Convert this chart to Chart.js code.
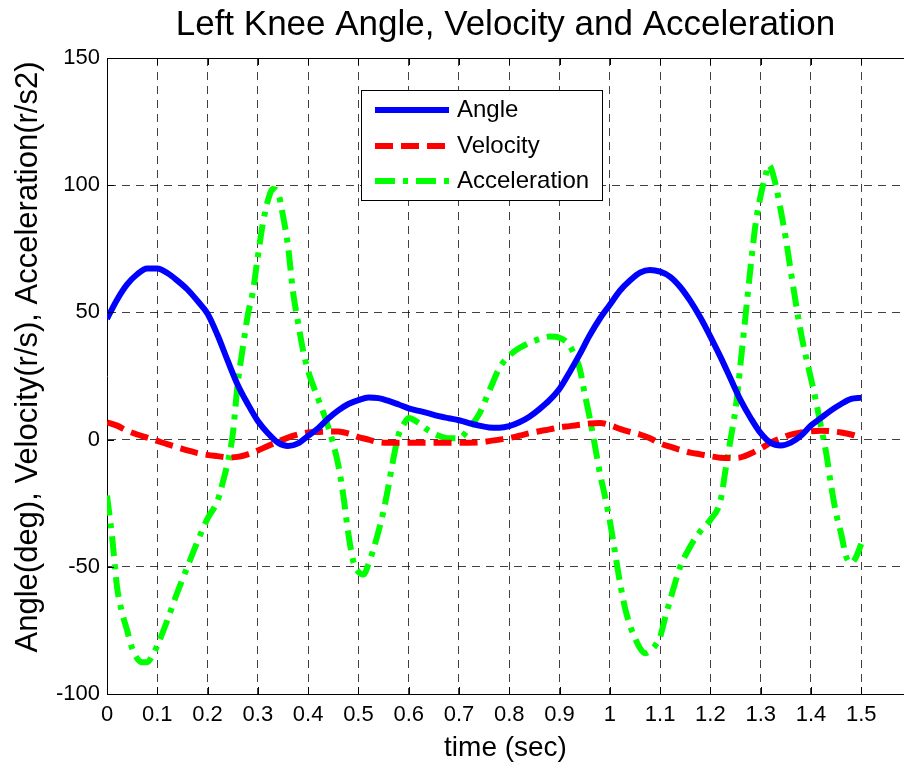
<!DOCTYPE html>
<html>
<head>
<meta charset="utf-8">
<style>
  body { margin: 0; background: #fff; }
  #wrap { width: 904px; height: 768px; }
</style>
</head>
<body>
<div id="wrap"><canvas id="chart"></canvas></div>

<script src="https://cdn.jsdelivr.net/npm/chart.js"></script>
<script>
// time (sec) samples for angle and velocity
const timeA = [0, 0.02, 0.04, 0.06, 0.08, 0.10, 0.12, 0.14, 0.16, 0.18,
  0.20, 0.22, 0.24, 0.26, 0.28, 0.30, 0.32, 0.34, 0.36, 0.38,
  0.40, 0.42, 0.44, 0.46, 0.48, 0.50, 0.52, 0.54, 0.56, 0.58,
  0.60, 0.62, 0.64, 0.66, 0.68, 0.70, 0.72, 0.74, 0.76, 0.78,
  0.80, 0.82, 0.84, 0.86, 0.88, 0.90, 0.92, 0.94, 0.96, 0.98,
  1.00, 1.02, 1.04, 1.06, 1.08, 1.10, 1.12, 1.14, 1.16, 1.18,
  1.20, 1.22, 1.24, 1.26, 1.28, 1.30, 1.32, 1.34, 1.36, 1.38,
  1.40, 1.42, 1.44, 1.46, 1.48, 1.50];

const angle = [47.5, 55, 61, 65, 67.3, 67.3, 65.5, 62.5, 59, 54.5,
  49.5, 41, 31, 21.5, 14, 7.3, 2.5, -1.2, -2.5, -1.5,
  1.5, 4.5, 8.3, 11.5, 14, 15.5, 16.5, 16.3, 15.2, 13.8,
  12.3, 11.3, 10.3, 9.2, 8.4, 7.6, 6.5, 5.5, 4.8, 4.7,
  5.3, 6.8, 9, 12, 15.5, 20, 26.5, 33.5, 41, 47.5,
  53, 58.5, 62.5, 65.6, 66.7, 66, 64, 60, 54.5, 48,
  40.5, 32.5, 24, 15.5, 8.5, 2.5, -1.3, -2.3, -1.2, 1.5,
  5.5, 8.5, 11.5, 14, 16, 16.5];

const velocity = [6.8, 5.5, 3.5, 2, 0.8, -0.5, -1.8, -3, -4.2, -5.3,
  -6, -6.5, -7, -6.8, -5.8, -4.3, -2.5, -0.8, 0.8, 2,
  2.8, 3, 3.2, 3.2, 2.4, 1, 0, -1, -1.2, -1.2,
  -1.2, -1.2, -1.2, -1.2, -1.2, -1.2, -1.2, -1.1, -0.6, 0,
  0.6, 1.5, 2.5, 3.3, 4, 4.8, 5.3, 5.8, 6.3, 6.5,
  5.7, 4.2, 3, 2, 0.5, -1.5, -2.8, -4, -5.1, -5.8,
  -6.5, -7.1, -7.2, -7, -5.5, -3.5, -1.2, 0.5, 2, 2.8,
  3.3, 3.5, 3.3, 2.8, 2, 0.8];

// acceleration has its own (denser) time samples
const timeAcc = [0, 0.01, 0.02, 0.03, 0.04, 0.05, 0.06, 0.07, 0.08, 0.09,
  0.10, 0.12, 0.14, 0.16, 0.18, 0.20, 0.22, 0.23, 0.24, 0.25,
  0.26, 0.27, 0.28, 0.29, 0.30, 0.31, 0.32, 0.33, 0.34, 0.35,
  0.36, 0.37, 0.38, 0.39, 0.40, 0.42, 0.44, 0.46, 0.47, 0.48,
  0.49, 0.50, 0.51, 0.52, 0.53, 0.54, 0.55, 0.56, 0.57, 0.58,
  0.59, 0.60, 0.62, 0.64, 0.66, 0.68, 0.70, 0.72, 0.74, 0.76,
  0.78, 0.80, 0.82, 0.84, 0.86, 0.88, 0.90, 0.92, 0.93, 0.94,
  0.95, 0.96, 0.97, 0.98, 0.99, 1.00, 1.01, 1.02, 1.03, 1.04,
  1.05, 1.06, 1.07, 1.08, 1.09, 1.10, 1.11, 1.12, 1.14, 1.16,
  1.18, 1.20, 1.22, 1.23, 1.24, 1.25, 1.26, 1.27, 1.28, 1.29,
  1.30, 1.31, 1.315, 1.32, 1.33, 1.34, 1.35, 1.36, 1.38, 1.40,
  1.41, 1.42, 1.43, 1.44, 1.45, 1.46, 1.47, 1.48, 1.49, 1.50];

const acceleration = [-22, -38, -58, -68, -75, -82, -86, -87.5, -87.5, -85,
  -81, -71, -60, -50, -40, -31, -24, -17, -9, 2,
  22, 36, 49, 58, 72, 85, 94, 98.5, 97, 88,
  76, 58, 46, 35, 27, 16, 5, -10, -22, -37,
  -48, -52, -53, -49, -43, -36, -28, -18, -7, 2,
  6, 8.5, 6.5, 3.5, 1.5, 0.5, 0.5, 4.5, 10, 19,
  28, 33, 36, 38, 39.5, 40.5, 40, 37, 33, 28,
  18, 8.5, -2, -13, -22, -32, -44, -56, -66, -73,
  -78, -82, -84, -83, -81, -77.5, -70, -63, -50, -42,
  -36, -31.5, -24, -12, 0, 12, 30, 49, 68, 85,
  96, 104, 108, 107, 100, 90, 79, 66, 42, 24,
  15, 5, -5, -18, -29, -37, -46, -48.5, -46, -41];

const xTicks = [0, 0.1, 0.2, 0.3, 0.4, 0.5, 0.6, 0.7, 0.8, 0.9, 1, 1.1, 1.2, 1.3, 1.4, 1.5];
const xTickLabels = ['0', '0.1', '0.2', '0.3', '0.4', '0.5', '0.6', '0.7', '0.8', '0.9', '1', '1.1', '1.2', '1.3', '1.4', '1.5'];
const yTicks = [-100, -50, 0, 50, 100, 150];
const yTickLabels = ['-100', '-50', '0', '50', '100', '150'];
const yTitle = 'Angle(deg), Velocity(r/s), Acceleration(r/s2)';

function pairs(t, v) {
    return t.map((x, i) => ({x: x, y: v[i]}));
}

Chart.defaults.font.family = "'Liberation Sans', Arial, sans-serif";
Chart.defaults.color = '#000';

// MATLAB style box: top border, inward ticks, y label, legend inside the axes
const matlabBox = {
    id: 'matlabBox',
    afterDraw(chart) {
        const ctx = chart.ctx;
        const a = chart.chartArea;
        const xs = chart.scales.x, ys = chart.scales.y;
        ctx.save();
        ctx.strokeStyle = '#000';
        ctx.lineWidth = 1;
        ctx.beginPath();
        ctx.moveTo(a.left, Math.round(a.top) + 0.5);
        ctx.lineTo(a.right, Math.round(a.top) + 0.5);
        xTicks.forEach(v => {
            const px = Math.round(xs.getPixelForValue(v)) + 0.5;
            ctx.moveTo(px, a.bottom); ctx.lineTo(px, a.bottom - 7);
            ctx.moveTo(px, a.top); ctx.lineTo(px, a.top + 7);
        });
        yTicks.forEach(v => {
            const py = Math.round(ys.getPixelForValue(v)) + 0.5;
            ctx.moveTo(a.left, py); ctx.lineTo(a.left + 7, py);
        });
        ctx.stroke();

        // y axis label (MATLAB puts it a bit above the axis middle here)
        ctx.save();
        ctx.translate(28, 357);
        ctx.rotate(-Math.PI / 2);
        ctx.font = "31px 'Liberation Sans', Arial, sans-serif";
        ctx.fillStyle = '#000';
        ctx.textAlign = 'center';
        ctx.textBaseline = 'middle';
        ctx.fillText(yTitle, 0, 0);
        ctx.restore();

        // legend
        const bx = 361, by = 90, bw = 241, bh = 110;
        ctx.fillStyle = '#fff';
        ctx.fillRect(bx, by, bw, bh);
        ctx.strokeRect(bx + 0.5, by + 0.5, bw, bh);
        const rows = [110, 146, 181];
        ctx.font = "24px 'Liberation Sans', Arial, sans-serif";
        ctx.textBaseline = 'middle';
        ctx.textAlign = 'left';
        chart.data.datasets.forEach((ds, i) => {
            const y = rows[i];
            ctx.save();
            ctx.strokeStyle = ds.borderColor;
            ctx.lineWidth = ds.borderWidth;
            ctx.setLineDash(ds.borderDash || []);
            ctx.lineCap = 'butt';
            ctx.beginPath();
            ctx.moveTo(375, y); ctx.lineTo(449, y);
            ctx.stroke();
            ctx.restore();
            ctx.fillStyle = '#000';
            ctx.fillText(ds.label, 457, y);
        });
        ctx.restore();
    }
};

const gridStyle = {
    display: true,
    color: 'rgba(0,0,0,0.75)',
    lineWidth: 1,
    drawTicks: false
};

new Chart(document.getElementById('chart'), {
    type: 'line',
    data: {
        datasets: [{
            label: 'Angle',
            data: pairs(timeA, angle),
            borderColor: '#0000ff',
            borderWidth: 6,
            borderDash: []
        }, {
            label: 'Velocity',
            data: pairs(timeA, velocity),
            borderColor: '#ff0000',
            borderWidth: 6,
            borderDash: [18, 8]
        }, {
            label: 'Acceleration',
            data: pairs(timeAcc, acceleration),
            borderColor: '#00ff00',
            borderWidth: 6,
            borderDash: [20, 8, 5, 8]
        }]
    },
    options: {
        responsive: true,
        maintainAspectRatio: false,
        animation: false,
        elements: {
            point: { radius: 0, hoverRadius: 0 },
            line: { cubicInterpolationMode: 'monotone', borderCapStyle: 'butt', borderJoinStyle: 'round' }
        },
        layout: { padding: { left: 0, right: 0, top: 0, bottom: 0 } },
        scales: {
            x: {
                type: 'linear',
                min: 0,
                max: 1.585,
                afterFit: (s) => { s.height = 74; },
                afterBuildTicks: (s) => { s.ticks = xTicks.map(v => ({value: v})); },
                ticks: {
                    padding: 8,
                    font: { size: 22 },
                    callback: (v) => xTickLabels[xTicks.indexOf(v)]
                },
                grid: gridStyle,
                border: { display: true, color: '#000', width: 1, dash: [8, 6] },
                title: {
                    display: true,
                    text: 'time (sec)',
                    font: { size: 28 },
                    padding: { top: 0, bottom: 3 }
                }
            },
            y: {
                min: -100,
                max: 150,
                afterFit: (s) => { s.width = 107; },
                afterBuildTicks: (s) => { s.ticks = yTicks.map(v => ({value: v})); },
                ticks: {
                    padding: 7,
                    font: { size: 22 },
                    callback: (v) => yTickLabels[yTicks.indexOf(v)]
                },
                grid: gridStyle,
                border: { display: true, color: '#000', width: 1, dash: [8, 6] },
                title: { display: false }
            }
        },
        plugins: {
            legend: { display: false },
            tooltip: { enabled: false },
            title: {
                display: true,
                fullSize: false,
                text: 'Left Knee Angle, Velocity and Acceleration',
                font: { size: 35, weight: 'normal' },
                color: '#000',
                padding: { top: 4, bottom: 12 }
            }
        }
    },
    plugins: [matlabBox]
});
</script>
</body>
</html>
